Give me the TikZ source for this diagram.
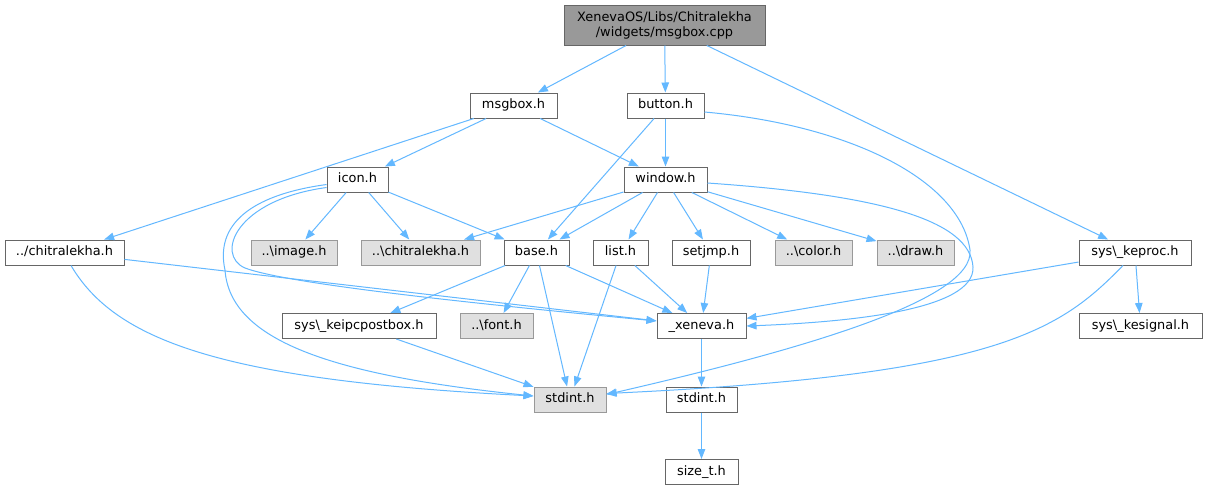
\documentclass[tikz,border=0pt]{standalone}
\usepackage{fontspec}
\setmainfont{DejaVu Sans}
\usetikzlibrary{arrows.meta}
\definecolor{edgec}{HTML}{63B8FF}
\definecolor{bordc}{HTML}{666666}
\definecolor{extb}{HTML}{999999}
\definecolor{extf}{HTML}{E0E0E0}
\definecolor{rootf}{HTML}{999999}
\begin{document}
\begin{tikzpicture}[x=1pt,y=-1pt,
  nd/.style={draw=bordc, fill=white, line width=1pt, inner sep=0pt, minimum height=25pt,
    font=\fontsize{12.9}{15}\selectfont, text height=9.5pt, text depth=2.6pt},
  ext/.style={nd, draw=extb, fill=extf},
  rootnd/.style={draw=bordc, fill=rootf, line width=1pt, inner sep=0pt, minimum height=40pt,
    font=\fontsize{12.9}{15}\selectfont, align=center},
  edge/.style={color=edgec, line width=1pt, -{Triangle[length=10pt,width=7.5pt]}}]
\useasboundingbox (0,0) rectangle (1207,491);
\fill[white] (0,0) rectangle (1207,491);

\node[rootnd, minimum width=201pt] (root) at (664.5,25) {XenevaOS/Libs/Chitralekha\\/widgets/msgbox.cpp};
\node[nd, minimum width=87pt] (msgbox) at (513.5,105.5) {msgbox.h};
\node[nd, minimum width=77pt] (button) at (665.5,105.5) {button.h};
\node[nd, minimum width=61pt] (icon) at (357.5,179.5) {icon.h};
\node[nd, minimum width=83pt] (window) at (665.5,179.5) {window.h};
\node[nd, minimum width=119pt] (chitra) at (64.5,252.5) {../chitralekha.h};
\node[ext, minimum width=86pt] (image) at (294,252.5) {..\textbackslash image.h};
\node[ext, minimum width=119pt] (chitrab) at (420.5,252.5) {..\textbackslash chitralekha.h};
\node[nd, minimum width=65pt] (base) at (536.5,252.5) {base.h};
\node[nd, minimum width=55pt] (list) at (620.5,252.5) {list.h};
\node[nd, minimum width=78pt] (setjmp) at (711,252.5) {setjmp.h};
\node[ext, minimum width=77pt] (color) at (813.5,252.5) {..\textbackslash color.h};
\node[ext, minimum width=77pt] (drawh) at (915.5,252.5) {..\textbackslash draw.h};
\node[nd, minimum width=112pt] (keproc) at (1135,252.5) {sys\textbackslash\_keproc.h};
\node[nd, minimum width=154pt] (ipc) at (359,326) {sys\textbackslash\_keipcpostbox.h};
\node[ext, minimum width=73pt] (font) at (496.5,326) {..\textbackslash font.h};
\node[nd, minimum width=89pt] (xeneva) at (701.5,326) {\_xeneva.h};
\node[nd, minimum width=123pt] (kesignal) at (1140.5,326) {sys\textbackslash\_kesignal.h};
\node[ext, minimum width=72pt] (stdinta) at (570,399.5) {stdint.h};
\node[nd, minimum width=71pt] (stdintb) at (701.5,399.5) {stdint.h};
\node[nd, minimum width=73pt] (sizet) at (701.5,472) {size\_t.h};

% straight edges
\draw[edge] (root) -- (msgbox);
\draw[edge] (root) -- (button);
\draw[edge] (root) -- (keproc);
\draw[edge] (msgbox) -- (chitra);
\draw[edge] (msgbox) -- (icon);
\draw[edge] (msgbox) -- (window);
\draw[edge] (button) -- (window);
\draw[edge] (button) -- (base);
\draw[edge] (icon) -- (image);
\draw[edge] (icon) -- (chitrab);
\draw[edge] (icon) -- (base);
\draw[edge] (window) -- (chitrab);
\draw[edge] (window) -- (base);
\draw[edge] (window) -- (list);
\draw[edge] (window) -- (setjmp);
\draw[edge] (window) -- (color);
\draw[edge] (window) -- (drawh);
\draw[edge] (chitra) -- (xeneva);
\draw[edge] (base) -- (ipc);
\draw[edge] (base) -- (font);
\draw[edge] (base) -- (stdinta);
\draw[edge] (base) -- (xeneva);
\draw[edge] (list) -- (stdinta);
\draw[edge] (list) -- (xeneva);
\draw[edge] (setjmp) -- (xeneva);
\draw[edge] (ipc) -- (stdinta);
\draw[edge] (keproc) -- (kesignal);
\draw[edge] (keproc) -- (xeneva);
\draw[edge] (xeneva) -- (stdintb);
\draw[edge] (stdintb) -- (sizet);

% curved edges
\draw[edge] ([yshift=-6.5pt]button.east) .. controls (850,125) and (960,180) .. (970,250)
  .. controls (975,300) and (800,350) .. ([yshift=5pt]stdinta.east);
\draw[edge] ([yshift=-3.5pt]window.east) .. controls (880,195) and (970,220) .. (973,267)
  .. controls (975,310) and (850,322) .. (xeneva.east);
\draw[edge] ([yshift=-5pt]icon.west) .. controls (250,195) and (215,225) .. (225,270)
  .. controls (230,340) and (330,375) .. ([yshift=3.5pt]stdinta.west);
\draw[edge] ([yshift=-8pt]icon.west) .. controls (235,200) and (215,255) .. (245,268)
  .. controls (290,285) and (500,306) .. ([yshift=5pt]xeneva.west);
\draw[edge] ([xshift=6.5pt]chitra.south) .. controls (115,340) and (220,380) .. ([yshift=3.5pt]stdinta.west);
\draw[edge] ([xshift=-12pt]keproc.south) .. controls (1060,330) and (1000,375) .. ([yshift=6pt]stdinta.east);
\end{tikzpicture}
\end{document}
